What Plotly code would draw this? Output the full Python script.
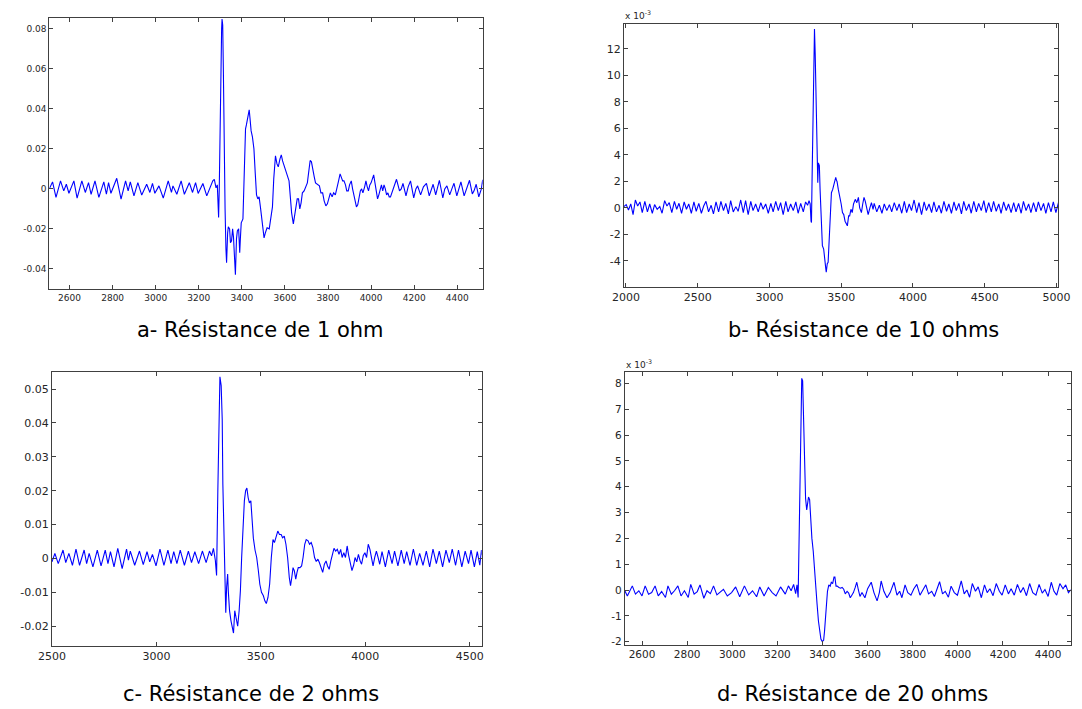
import plotly.graph_objects as go

# ---------------- Panel a : Résistance de 1 ohm ----------------
xa = [2506, 2521, 2537, 2558, 2573, 2585, 2597, 2620, 2635, 2657,
      2673, 2688, 2700, 2718, 2736, 2759, 2771, 2781, 2792, 2819,
      2839, 2860, 2872, 2882, 2899, 2917, 2935, 2958, 2973, 2985,
      2996, 3015, 3035, 3058, 3073, 3080, 3098, 3118, 3133, 3156,
      3171, 3185, 3197, 3219, 3237, 3257, 3265, 3272, 3280, 3286,
      3289, 3292, 3295, 3298, 3302, 3306, 3308, 3311, 3314, 3317,
      3322, 3326, 3329, 3334, 3337, 3343, 3347, 3352, 3357, 3361,
      3366, 3370, 3375, 3379, 3385, 3390, 3393, 3397, 3405, 3411,
      3417, 3421, 3427, 3434, 3438, 3443, 3449, 3456, 3462, 3468,
      3474, 3480, 3486, 3494, 3503, 3509, 3517, 3527, 3535, 3542,
      3548, 3556, 3563, 3569, 3577, 3583, 3589, 3597, 3604, 3612,
      3619, 3625, 3631, 3639, 3645, 3651, 3657, 3663, 3669, 3675,
      3681, 3689, 3696, 3704, 3711, 3717, 3723, 3729, 3736, 3742,
      3751, 3760, 3767, 3775, 3782, 3790, 3797, 3805, 3811, 3819,
      3826, 3834, 3841, 3849, 3856, 3862, 3868, 3874, 3881, 3887,
      3894, 3900, 3908, 3914, 3920, 3926, 3932, 3938, 3944, 3950,
      3956, 3962, 3970, 3976, 3982, 3988, 3994, 4000, 4006, 4012,
      4018, 4024, 4030, 4036, 4042, 4048, 4054, 4060, 4066, 4072,
      4078, 4084,
      4090, 4104, 4118, 4132, 4140, 4148, 4162, 4172, 4183, 4198,
      4208, 4216, 4230, 4243, 4257, 4270, 4280, 4288, 4300, 4317,
      4333, 4342, 4352, 4365, 4375, 4385, 4398, 4408, 4417, 4432,
      4445, 4457, 4470, 4478, 4488, 4500, 4512, 4518, 4522]
ya = [0.000, 0.0035, -0.0043, 0.004, -0.001, 0.0023, -0.0022, 0.004, -0.0046, 0.004,
      -0.0018, 0.0031, -0.0027, 0.004, -0.0043, 0.0035, -0.0027, 0.0031, -0.0022, 0.0053,
      -0.0051, 0.004, -0.001, 0.0035, -0.0035, 0.0031, -0.0031, 0.0023, -0.0018, 0.0027,
      -0.0022, 0.0015, -0.0046, 0.004, -0.0018, 0.0015, -0.0027, 0.004, -0.0027, 0.0031,
      -0.0018, 0.0031, -0.0023, 0.0027, -0.0035, 0.002, 0.004, 0.0048, 0.0005, 0.002,
      -0.005, -0.0143, 0.000, 0.032, 0.066, 0.080, 0.085, 0.082, 0.060, 0.028,
      -0.010, -0.030, -0.037, -0.022, -0.019, -0.020, -0.027, -0.026, -0.020, -0.024,
      -0.035, -0.043, -0.025, -0.021, -0.020, -0.032, -0.025, -0.017, -0.015, 0.008,
      0.030, 0.032, 0.036, 0.0395, 0.035, 0.029, 0.026, 0.020, 0.008, -0.003,
      -0.005, -0.004, -0.009, -0.018, -0.0245, -0.022, -0.0195, -0.020, -0.015, -0.009,
      0.005, 0.0165, 0.0125, 0.011, 0.015, 0.017, 0.014, 0.0115, 0.009, 0.006,
      0.004, -0.004, -0.012, -0.0175, -0.014, -0.009, -0.005, -0.005, -0.010, -0.007,
      -0.002, -0.001, 0.001, 0.003, 0.009, 0.0142, 0.0135, 0.009, 0.006, 0.003,
      0.002, 0.0015, -0.002, -0.002, -0.006, -0.0085, -0.0075, -0.004, -0.002, -0.004,
      -0.002, -0.003, 0.001, 0.004, 0.0075, 0.006, 0.004, 0.004, 0.002, -0.001,
      -0.001, 0.002, 0.004, 0.000, -0.003, -0.006, -0.009, -0.008, -0.004, -0.001,
      0.000, -0.002, 0.001, 0.004, 0.001, -0.001, 0.002, 0.003, 0.005, 0.007,
      0.003, -0.002, -0.005, -0.003, 0.000, 0.002, -0.001, 0.002, 0.000, -0.003,
      -0.002, -0.004,
      -0.004, 0.000, 0.0048, -0.001, 0.000, 0.0027, -0.0035, 0.001, 0.004, -0.0045,
      0.000, 0.0015, -0.003, 0.001, 0.0027, -0.0035, 0.000, 0.0023, -0.003, 0.0043,
      -0.0045, 0.000, 0.0015, -0.003, 0.000, 0.0028, -0.0035, 0.000, 0.0035, -0.0035,
      0.001, 0.0043, -0.0025, -0.001, 0.0023, -0.004, 0.000, 0.0045, 0.002]
a_xticks = [2600, 2800, 3000, 3200, 3400, 3600, 3800, 4000, 4200, 4400]
a_yticks = [-0.04, -0.02, 0, 0.02, 0.04, 0.06, 0.08]
a_ytext = ["-0.04", "-0.02", "0", "0.02", "0.04", "0.06", "0.08"]

# ---------------- Panel b : Résistance de 10 ohms (x 10^-3) ----------------
xb = [1986, 2002, 2018, 2034, 2050, 2066, 2082, 2098, 2114, 2132,
      2150, 2166, 2184, 2200, 2218, 2236, 2252, 2270, 2286, 2302,
      2320, 2338, 2354, 2370, 2388, 2406, 2422, 2438, 2456, 2474,
      2490, 2508, 2526, 2542, 2558, 2576, 2594, 2610, 2628, 2646,
      2662, 2680, 2696, 2714, 2730, 2748, 2766, 2782, 2800, 2818,
      2834, 2852, 2870, 2886, 2904, 2922, 2940, 2956, 2974, 2992,
      3010, 3026, 3044, 3062, 3078, 3096, 3114, 3130, 3148, 3166,
      3184, 3200, 3218, 3236, 3252, 3266, 3276, 3284,
      3290, 3293, 3297, 3303, 3310, 3314, 3319, 3326, 3332, 3337,
      3341, 3345, 3348, 3353, 3360, 3369, 3378, 3383, 3387, 3392,
      3396, 3400, 3403, 3409, 3416, 3423, 3432, 3441, 3450, 3456,
      3462, 3467, 3471, 3480, 3491, 3500, 3509, 3518, 3527, 3536,
      3543, 3552, 3559, 3568, 3577, 3586, 3598, 3609, 3620, 3629,
      3641, 3650, 3659, 3668, 3677, 3688, 3700, 3711, 3722,
      3730, 3748, 3766, 3784, 3800, 3818, 3836, 3852, 3870, 3888,
      3904, 3922, 3940, 3956, 3974, 3990, 4008, 4026, 4042, 4060,
      4078, 4094, 4112, 4130, 4146, 4164, 4182, 4198, 4216, 4234,
      4250, 4268, 4286, 4302, 4320, 4338, 4354, 4372, 4390, 4406,
      4424, 4442, 4458, 4476, 4494, 4510, 4528, 4546, 4562, 4580,
      4598, 4614, 4632, 4650, 4666, 4684, 4702, 4718, 4736, 4754,
      4770, 4788, 4806, 4822, 4840, 4858, 4874, 4892, 4910, 4926,
      4944, 4962, 4978, 4996, 5008, 5016]
yb = [0.1, 0.25, -0.15, 0.3, -0.5, 0.6, 0.15, 0.45, -0.35, 0.5,
      -0.3, 0.3, -0.4, 0.25, -0.1, 0.1, -0.4, 0.55, 0.15, 0.4,
      -0.35, 0.5, -0.1, 0.35, -0.4, 0.45, -0.1, 0.3, -0.4, 0.45,
      -0.25, 0.35, -0.4, 0.15, 0.5, -0.3, 0.2, -0.45, 0.45, -0.3,
      0.5, -0.2, 0.35, -0.45, 0.55, -0.3, 0.1, -0.25, 0.6, -0.35,
      0.55, -0.5, 0.5, -0.2, 0.3, -0.3, 0.4, -0.1, 0.3, -0.4,
      0.35, -0.3, 0.5, -0.2, 0.4, -0.5, 0.5, -0.3, 0.3, -0.2,
      0.45, -0.4, 0.35, -0.3, 0.45, 0.2, 0.55, 0.3,
      -1.0, -1.1, 2.0, 5.8, 12.3, 13.5, 11.6, 7.6, 2.6, 1.9,
      3.4, 3.3, 3.2, 1.4, -1.35, -2.85, -3.1, -3.9, -4.1, -4.5,
      -4.85, -4.3, -4.2, -4.1, -2.1, -0.6, 1.15, 1.4, 1.8, 2.0,
      2.3, 2.1, 2.0, 1.4, 0.9, 0.3, -0.35, -0.5, -1.0, -1.2,
      -1.35, -0.6, -0.6, -0.1, -0.35, 0.3, 0.65, 0.4, 0.8, 0.0,
      -0.35, 0.3, 0.8, 0.5, -0.1, -0.5, 0.0, 0.4, -0.1,
      0.35, -0.3, 0.2, -0.4, 0.3, -0.2, 0.25, -0.3, 0.4, -0.2,
      0.3, -0.4, 0.5, -0.35, 0.3, -0.2, 0.6, -0.35, 0.4, -0.5,
      0.45, -0.2, 0.3, -0.35, 0.45, -0.3, 0.2, -0.4, 0.5, -0.25,
      0.3, -0.4, 0.45, -0.2, 0.35, -0.45, 0.5, -0.2, 0.3, -0.4,
      0.5, -0.3, 0.35, -0.2, 0.55, -0.35, 0.4, -0.3, 0.5, -0.25,
      0.3, -0.4, 0.45, -0.2, 0.3, -0.35, 0.4, -0.3, 0.35, -0.4,
      0.5, -0.2, 0.3, -0.35, 0.4, -0.3, 0.45, -0.2, 0.35, -0.4,
      0.4, -0.3, 0.45, -0.35, 0.1, 0.5]
b_xticks = [2000, 2500, 3000, 3500, 4000, 4500, 5000]
b_yticks = [-4, -2, 0, 2, 4, 6, 8, 10, 12]
b_ytext = ["-4", "-2", "0", "2", "4", "6", "8", "10", "12"]

# ---------------- Panel c : Résistance de 2 ohms ----------------
xc = [2500, 2514, 2530, 2540, 2553, 2566, 2581, 2598, 2615, 2632,
      2642, 2654, 2666, 2678, 2696, 2717, 2735, 2755, 2768, 2780,
      2797, 2815, 2836, 2857, 2866, 2875, 2896, 2919, 2937, 2955,
      2968, 2981, 2998, 3017, 3036, 3055, 3070, 3083, 3098, 3114,
      3134, 3153, 3168, 3184, 3202, 3220, 3238, 3254, 3264, 3273,
      3282,
      3288, 3294, 3299, 3304, 3310, 3315, 3318, 3322, 3327, 3332,
      3336, 3341, 3344, 3350, 3357, 3363, 3369, 3375, 3380, 3385,
      3389, 3396, 3402, 3408, 3414, 3421, 3427, 3433, 3439, 3445,
      3452, 3458, 3464, 3472, 3480, 3488, 3495, 3503, 3512, 3519,
      3526, 3534, 3542, 3550, 3558, 3565, 3573, 3581, 3589, 3597,
      3604, 3612, 3620, 3628, 3636, 3642, 3648, 3654, 3660, 3667,
      3673, 3679, 3687, 3695, 3702, 3710, 3717, 3726, 3733, 3741,
      3749, 3757, 3765, 3773, 3780, 3788, 3796, 3804, 3812, 3819,
      3827, 3835, 3843, 3850, 3858, 3866, 3874, 3882, 3889, 3897,
      3905, 3913, 3920, 3928, 3936, 3944, 3951, 3959, 3967, 3975,
      3982, 3990, 3998, 4006, 4014, 4022, 4029, 4037, 4045, 4053,
      4061, 4069,
      4080, 4096, 4112, 4128, 4140, 4156, 4172, 4186, 4198, 4214,
      4230, 4246, 4260, 4276, 4292, 4308, 4324, 4340, 4354, 4370,
      4386, 4402, 4416, 4432, 4446, 4462, 4478, 4494, 4506, 4522,
      4536, 4548, 4556, 4560]
yc = [-0.001, 0.0015, -0.0015, 0.000, 0.0025, -0.0012, 0.0015, -0.002, 0.0028, -0.002,
      0.000, 0.0025, -0.0015, 0.0015, -0.0025, 0.0025, -0.0022, 0.0025, -0.0015, 0.002,
      -0.0025, 0.003, -0.003, 0.0028, -0.0005, 0.0022, -0.002, 0.0022, -0.0018, 0.002,
      -0.001, 0.0012, -0.0022, 0.0028, -0.002, 0.0025, -0.0015, 0.002, -0.0015, 0.0025,
      -0.002, 0.0022, -0.0012, 0.002, -0.0015, 0.0022, -0.0012, 0.0022, 0.0008, 0.003,
      -0.0005,
      -0.005, 0.020, 0.045, 0.0536, 0.051, 0.041, 0.022, 0.008, -0.0105, -0.016,
      -0.0085, -0.0046, -0.0095, -0.0154, -0.0184, -0.020, -0.022, -0.0154, -0.0169, -0.0193,
      -0.020, -0.0154, -0.0095, 0.0003, 0.010, 0.017, 0.020, 0.0208, 0.018, 0.0164,
      0.017, 0.012, 0.006, 0.0025, 0.0003, -0.0036, -0.0076, -0.010, -0.011, -0.0125,
      -0.0133, -0.0115, -0.0076, 0.0003, 0.0056, 0.0047, 0.0066, 0.0081, 0.0071, 0.0071,
      0.0061, 0.0066, 0.0042, 0.0003, -0.0056, -0.008, -0.0056, -0.0027, -0.0036, -0.0061,
      -0.0041, -0.0027, -0.0027, -0.0022, 0.0003, 0.0042, 0.0056, 0.0052, 0.0042, 0.0047,
      0.0032, 0.0003, -0.0009, -0.0002, -0.0012, -0.0027, -0.0041, -0.0017, -0.0007, -0.0022,
      -0.0032, -0.0007, 0.0012, 0.003, 0.0022, 0.0027, 0.0012, 0.0027, 0.0003, 0.0017,
      0.0003, 0.0037, 0.001, -0.0017, -0.0036, -0.002, 0.0003, -0.001, 0.0012, -0.0007,
      -0.0017, 0.0008, 0.0017, 0.0003, 0.0042, 0.0027, 0.0003, -0.0022, 0.0003, 0.0022,
      0.0003, -0.0017,
      0.002, -0.0025, 0.0025, -0.0015, 0.0022, -0.0022, 0.0025, -0.0015, 0.002, -0.002,
      0.0028, -0.002, 0.0015, -0.002, 0.0022, -0.0025, 0.0028, -0.0015, 0.0022, -0.0025,
      0.0025, -0.0012, 0.0028, -0.002, 0.0025, -0.0025, 0.0022, -0.0015, 0.0025, -0.0025,
      0.002, -0.002, 0.0025, 0.001]
c_xticks = [2500, 3000, 3500, 4000, 4500]
c_yticks = [-0.02, -0.01, 0, 0.01, 0.02, 0.03, 0.04, 0.05]
c_ytext = ["-0.02", "-0.01", "0", "0.01", "0.02", "0.03", "0.04", "0.05"]

# ---------------- Panel d : Résistance de 20 ohms (x 10^-3) ----------------
xd = [2524, 2535, 2557, 2571, 2586, 2600, 2614, 2629, 2643, 2658,
      2672, 2687, 2704, 2715, 2730, 2744, 2759, 2773, 2788, 2805,
      2816, 2831, 2845, 2857, 2874, 2888, 2903, 2917, 2932, 2946,
      2961, 2978, 2997, 3015, 3033, 3054, 3073, 3090, 3108, 3122,
      3141, 3160, 3177, 3194, 3214, 3235, 3249, 3261, 3272, 3281,
      3287, 3292,
      3295, 3298, 3302, 3308, 3312, 3317, 3321, 3325, 3330, 3334,
      3338, 3343, 3347, 3353, 3359, 3364, 3370, 3376, 3382, 3387,
      3393, 3399, 3405, 3409, 3413, 3418, 3422, 3428, 3434, 3439,
      3445, 3451, 3455, 3460, 3465, 3473, 3480, 3487, 3494, 3501,
      3509, 3516, 3523, 3530, 3537, 3545, 3552, 3559, 3566,
      3575, 3588, 3600, 3616, 3628, 3642, 3652, 3660, 3672, 3686,
      3700, 3717, 3730, 3742, 3752, 3766, 3778, 3792, 3805, 3818,
      3832, 3845, 3858, 3870, 3884, 3896, 3910, 3919, 3932, 3944,
      3958, 3970, 3984, 3998, 4015, 4028, 4040, 4052, 4064, 4078,
      4090, 4104, 4118, 4130, 4142, 4156, 4170, 4184, 4196, 4210,
      4224, 4236, 4250, 4264, 4278, 4290, 4304, 4318, 4332, 4346,
      4360, 4374, 4386, 4400, 4414, 4426, 4438, 4452, 4466, 4478,
      4490, 4500, 4506]
yd = [-0.03, -0.23, 0.16, -0.16, -0.03, -0.23, 0.16, -0.16, -0.1, 0.16,
      -0.23, -0.06, -0.29, 0.16, -0.16, -0.03, 0.16, -0.23, -0.03, -0.29,
      0.22, -0.16, -0.06, 0.2, -0.32, -0.03, -0.14, 0.16, -0.19, -0.1,
      0.03, -0.23, -0.1, 0.12, -0.26, 0.16, -0.19, -0.03, -0.26, 0.12,
      -0.23, 0.1, -0.1, -0.23, 0.12, -0.16, 0.16, -0.03, 0.22, -0.14,
      0.2, -0.29,
      1.5, 3.95, 6.5, 8.2, 8.1, 6.5, 4.6, 3.55, 3.1, 3.45,
      3.6, 3.5, 2.65, 2.0, 1.5, 0.75, 0.1, -0.55, -1.2, -1.65,
      -1.9, -2.0, -1.95, -1.6, -1.05, -0.55, -0.05, 0.2, 0.15, 0.3,
      0.25, 0.5, 0.5, 0.15, 0.15, 0.1, 0.07, 0.1, 0.03, -0.15,
      -0.05, -0.12, -0.3, -0.2, -0.1, 0.1, 0.3, 0.0, -0.25,
      -0.1, -0.3, 0.05, 0.3, -0.1, -0.42, -0.1, 0.35, -0.05, -0.3,
      -0.1, 0.3, -0.2, -0.05, -0.3, 0.2, -0.1, -0.2, 0.05, 0.22,
      -0.2, 0.0, 0.2, -0.15, -0.05, -0.25, 0.1, 0.32, -0.15, -0.05,
      -0.28, 0.15, -0.1, -0.2, 0.35, -0.15, 0.0, -0.28, 0.25, -0.05,
      0.12, -0.3, 0.2, -0.1, 0.05, -0.22, 0.25, -0.05, -0.2, 0.2,
      -0.15, 0.05, -0.2, 0.22, -0.1, 0.1, -0.22, 0.25, -0.1, -0.2,
      0.22, -0.12, 0.02, -0.25, 0.3, -0.05, -0.2, 0.25, 0.05, 0.2,
      -0.1, 0.0, 0.0]
d_xticks = [2600, 2800, 3000, 3200, 3400, 3600, 3800, 4000, 4200, 4400]
d_yticks = [-2, -1, 0, 1, 2, 3, 4, 5, 6, 7, 8]
d_ytext = ["-2", "-1", "0", "1", "2", "3", "4", "5", "6", "7", "8"]

titles = ["a- Résistance de 1 ohm", "b- Résistance de 10 ohms",
          "c- Résistance de 2 ohms", "d- Résistance de 20 ohms"]

for name, xs, ys in [("a", xa, ya), ("b", xb, yb), ("c", xc, yc), ("d", xd, yd)]:
    assert len(xs) == len(ys), (name, len(xs), len(ys))

W, H = 1082, 709
OFF = 8  # the page body's default margin shifts the figure by 8 px
FONT = "DejaVu Sans"
AXC = "#404040"


def px(v):
    return (v - OFF) / W


def py(v):
    return 1 - (v - OFF) / H


def xaxis(dom, rng, ticks, size, anchor):
    return dict(domain=dom, range=rng, anchor=anchor, tickvals=ticks,
                ticktext=[str(t) for t in ticks], showline=True, linecolor=AXC,
                linewidth=1, mirror="ticks", ticks="inside", ticklen=4,
                tickcolor=AXC, showgrid=False, zeroline=False,
                tickfont=dict(family=FONT, size=size, color="#262626"))


def yaxis(dom, rng, ticks, text, size, anchor):
    return dict(domain=dom, range=rng, anchor=anchor, tickvals=ticks,
                ticktext=text, showline=True, linecolor=AXC, linewidth=1,
                mirror="ticks", ticks="inside", ticklen=4, tickcolor=AXC,
                showgrid=False, zeroline=False,
                tickfont=dict(family=FONT, size=size, color="#262626"))


fig = go.Figure()
line = dict(color="#0000ff", width=1.1)
fig.add_trace(go.Scatter(x=xa, y=ya, mode="lines", line=line, xaxis="x", yaxis="y"))
fig.add_trace(go.Scatter(x=xb, y=yb, mode="lines", line=line, xaxis="x2", yaxis="y2"))
fig.add_trace(go.Scatter(x=xc, y=yc, mode="lines", line=line, xaxis="x3", yaxis="y3"))
fig.add_trace(go.Scatter(x=xd, y=yd, mode="lines", line=line, xaxis="x4", yaxis="y4"))

fig.update_layout(
    width=W, height=H, autosize=False, showlegend=False,
    margin=dict(l=0, r=0, t=0, b=0),
    paper_bgcolor="white", plot_bgcolor="white",
    xaxis=xaxis([px(36), px(480)], [2506, 4518], a_xticks, 9, "y"),
    yaxis=yaxis([py(290), py(18)], [-0.05, 0.0855], a_yticks, a_ytext, 9, "x"),
    xaxis2=xaxis([px(624.7), px(1070)], [1986, 5014], b_xticks, 11, "y2"),
    yaxis2=yaxis([py(288.3), py(23.7)], [-5.97, 13.9], b_yticks, b_ytext, 11, "x2"),
    xaxis3=xaxis([px(38.7), px(479)], [2500, 4557], c_xticks, 11, "y3"),
    yaxis3=yaxis([py(648.3), py(374)], [-0.0257, 0.0549], c_yticks, c_ytext, 11, "x3"),
    xaxis4=xaxis([px(625.7), px(1082.5)], [2524, 4500], d_xticks, 10.5, "y4"),
    yaxis4=yaxis([py(647.3), py(373.7)], [-2.115, 8.44], d_yticks, d_ytext, 10.5, "x4"),
)

title_pos = [(252, 331), (870, 331), (243, 697), (859, 697)]
for t, (cx, cy) in zip(titles, title_pos):
    fig.add_annotation(text=t, x=px(cx), y=py(cy), xref="paper", yref="paper",
                       xanchor="center", yanchor="middle", showarrow=False,
                       font=dict(family=FONT, size=21, color="black"))

for (lx, ly) in [(624, 15), (625, 366)]:
    fig.add_annotation(text="x 10<sup>-3</sup>", x=px(lx), y=py(ly), xref="paper",
                       yref="paper", xanchor="left", yanchor="middle", showarrow=False,
                       font=dict(family=FONT, size=9, color="#262626"))

fig.write_html("out.html")
